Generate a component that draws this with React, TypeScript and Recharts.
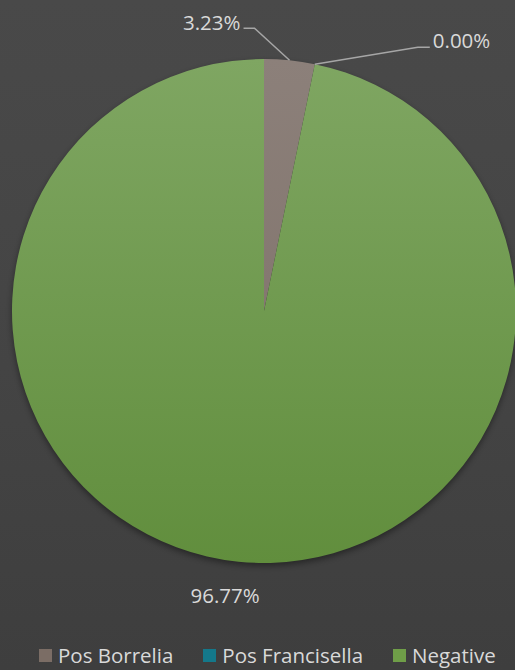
import React from "react";
import { PieChart, Pie, Cell } from "recharts";

const categories = ["Pos Borrelia", "Pos Francisella", "Negative"];
const values = [3.23, 0.0, 96.77];
const labels = ["3.23%", "0.00%", "96.77%"];
const colors = ["url(#gBrown)", "#1f7f91", "url(#gGreen)"];
const legendColors = ["#7b6d65", "#14788a", "#6f9e48"];

const data = categories.map((name, i) => ({ name, value: values[i], label: labels[i] }));

const FONT = "'Open Sans', sans-serif";
const TXT = "#d9d9d9";

const RAD = Math.PI / 180;

const renderLabel = (props: any) => {
  const { cx, cy, midAngle, outerRadius, index } = props;
  const ex = cx + outerRadius * Math.cos(-midAngle * RAD);
  const ey = cy + outerRadius * Math.sin(-midAngle * RAD);
  if (index === 0) {
    const bx = ex - 35;
    const by = ey - 32;
    return (
      <g>
        <polyline points={`${ex},${ey} ${bx},${by} ${bx - 11},${by}`} fill="none" stroke="#a6a6a6" strokeWidth={1.5} />
        <text x={bx - 14} y={by - 6} textAnchor="end" dominantBaseline="central" fill={TXT} fontFamily={FONT} fontSize={20.5}>
          {labels[index]}
        </text>
      </g>
    );
  }
  if (index === 1) {
    const bx = ex + 103;
    const by = ey - 17;
    return (
      <g>
        <polyline points={`${ex},${ey} ${bx},${by} ${bx + 12},${by}`} fill="none" stroke="#a6a6a6" strokeWidth={1.5} />
        <text x={bx + 15} y={by - 7} textAnchor="start" dominantBaseline="central" fill={TXT} fontFamily={FONT} fontSize={20.5}>
          {labels[index]}
        </text>
      </g>
    );
  }
  const r = outerRadius + 33;
  const lx = cx + r * Math.cos(-midAngle * RAD);
  const ly = cy + r * Math.sin(-midAngle * RAD);
  return (
    <text x={lx - 10} y={ly} textAnchor="middle" dominantBaseline="central" fill={TXT} fontFamily={FONT} fontSize={20.5}>
      {labels[index]}
    </text>
  );
};

export default function App() {
  return (
    <div
      style={{
        position: "absolute",
        left: 0,
        top: 0,
        width: 515,
        height: 670,
        background: "linear-gradient(180deg, #494949 0%, #444444 55%, #3e3e3e 100%)",
        overflow: "hidden",
      }}
    >
      <PieChart width={515} height={640} margin={{ top: 0, right: 0, bottom: 0, left: 0 }}>
        <defs>
          <linearGradient id="gGreen" x1="0" y1="0" x2="0" y2="1">
            <stop offset="0%" stopColor="#7fa662" />
            <stop offset="100%" stopColor="#618e3d" />
          </linearGradient>
          <linearGradient id="gBrown" x1="0" y1="0" x2="0" y2="1">
            <stop offset="0%" stopColor="#8c807a" />
            <stop offset="100%" stopColor="#847770" />
          </linearGradient>
          <filter id="shadow" x="-10%" y="-10%" width="120%" height="120%">
            <feGaussianBlur stdDeviation="3" />
          </filter>
        </defs>
        <Pie
          data={data}
          dataKey="value"
          nameKey="name"
          cx={264}
          cy={314}
          outerRadius={252}
          startAngle={90}
          endAngle={-270}
          stroke="none"
          fill="#000"
          fillOpacity={0.4}
          filter="url(#shadow)"
          isAnimationActive={false}
          legendType="none"
        />
        <Pie
          data={data}
          dataKey="value"
          nameKey="name"
          cx={264}
          cy={311}
          outerRadius={252}
          startAngle={90}
          endAngle={-270}
          stroke="none"
          label={renderLabel}
          labelLine={false}
          isAnimationActive={false}
        >
          {data.map((d, i) => (
            <Cell key={d.name} fill={colors[i]} />
          ))}
        </Pie>
      </PieChart>
      <div
        style={{
          position: "absolute",
          top: 645,
          left: 39,
          display: "flex",
          fontFamily: FONT,
          fontSize: 20.5,
          color: TXT,
          gap: 30,
          whiteSpace: "nowrap",
        }}
      >
        {categories.map((c, i) => (
          <div key={c} style={{ display: "flex", alignItems: "center", lineHeight: "20px", height: 20 }}>
            <span style={{ width: 13, height: 13, background: legendColors[i], marginRight: 6, display: "inline-block" }} />
            <span>{c}</span>
          </div>
        ))}
      </div>
    </div>
  );
}
